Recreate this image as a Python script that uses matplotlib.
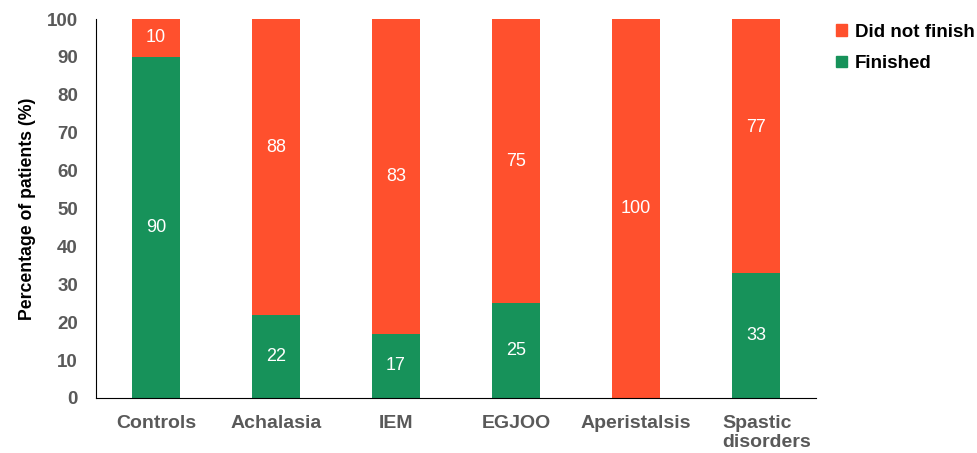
import numpy as np
import matplotlib.pyplot as plt
import matplotlib.transforms as mtransforms
from matplotlib.patches import Patch

plt.rcParams['font.family'] = ['Liberation Sans', 'DejaVu Sans']

categories = ['Controls', 'Achalasia', 'IEM', 'EGJOO', 'Aperistalsis', 'Spastic\ndisorders']
finished = [90, 22, 17, 25, 0, 33]
not_finished = [10, 88, 83, 75, 100, 77]

green = '#17925A'
orange = '#FF502D'
grey = '#595959'

fig = plt.figure(figsize=(9.77, 4.53), dpi=100)
ax = fig.add_axes([96 / 977, 55 / 453, 720 / 977, 379 / 453])

x = np.arange(len(categories))
w = 0.4
ax.bar(x, finished, w, color=green)
ax.bar(x, not_finished, w, bottom=finished, color=orange)

# value labels
for i in range(len(categories)):
    if finished[i] > 0:
        ax.text(x[i], finished[i] / 2, str(finished[i]), ha='center', va='center',
                color='white', fontsize=13)
    if not_finished[i] > 0:
        ax.text(x[i], finished[i] + not_finished[i] / 2, str(not_finished[i]),
                ha='center', va='center', color='white', fontsize=13)

ax.set_xlim(-0.5, len(categories) - 0.5)
ax.set_ylim(0, 100)
ax.set_yticks(range(0, 101, 10))
ax.set_xticks(x)
ax.set_xticklabels(categories, fontsize=14, fontweight='bold', color=grey,
                   multialignment='left')
ax.tick_params(axis='y', labelsize=13.5, labelcolor=grey, length=0, pad=13)
ax.tick_params(axis='x', length=0, pad=12)
for lab in ax.get_yticklabels():
    lab.set_fontweight('bold')
# the two-line label sits a bit right of its bar in the original
last = ax.get_xticklabels()[-1]
last.set_transform(last.get_transform() +
                   mtransforms.ScaledTranslation(0.11, 0, fig.dpi_scale_trans))
ax.set_ylabel('Percentage of patients (%)', fontsize=12.7, fontweight='bold', labelpad=8)

ax.spines['top'].set_visible(False)
ax.spines['right'].set_visible(False)
ax.spines['left'].set_color('black')
ax.spines['bottom'].set_color('black')

handles = [Patch(color=orange, label='Did not finish'),
           Patch(color=green, label='Finished')]
fig.legend(handles=handles, loc='upper left', bbox_to_anchor=(836 / 977, 1 - 24 / 453),
           frameon=False, prop={'weight': 'bold', 'size': 13.5},
           handlelength=0.6, handleheight=0.6, handletextpad=0.4, labelspacing=0.75,
           borderaxespad=0, borderpad=0)

fig.savefig('out.png', dpi=100)
